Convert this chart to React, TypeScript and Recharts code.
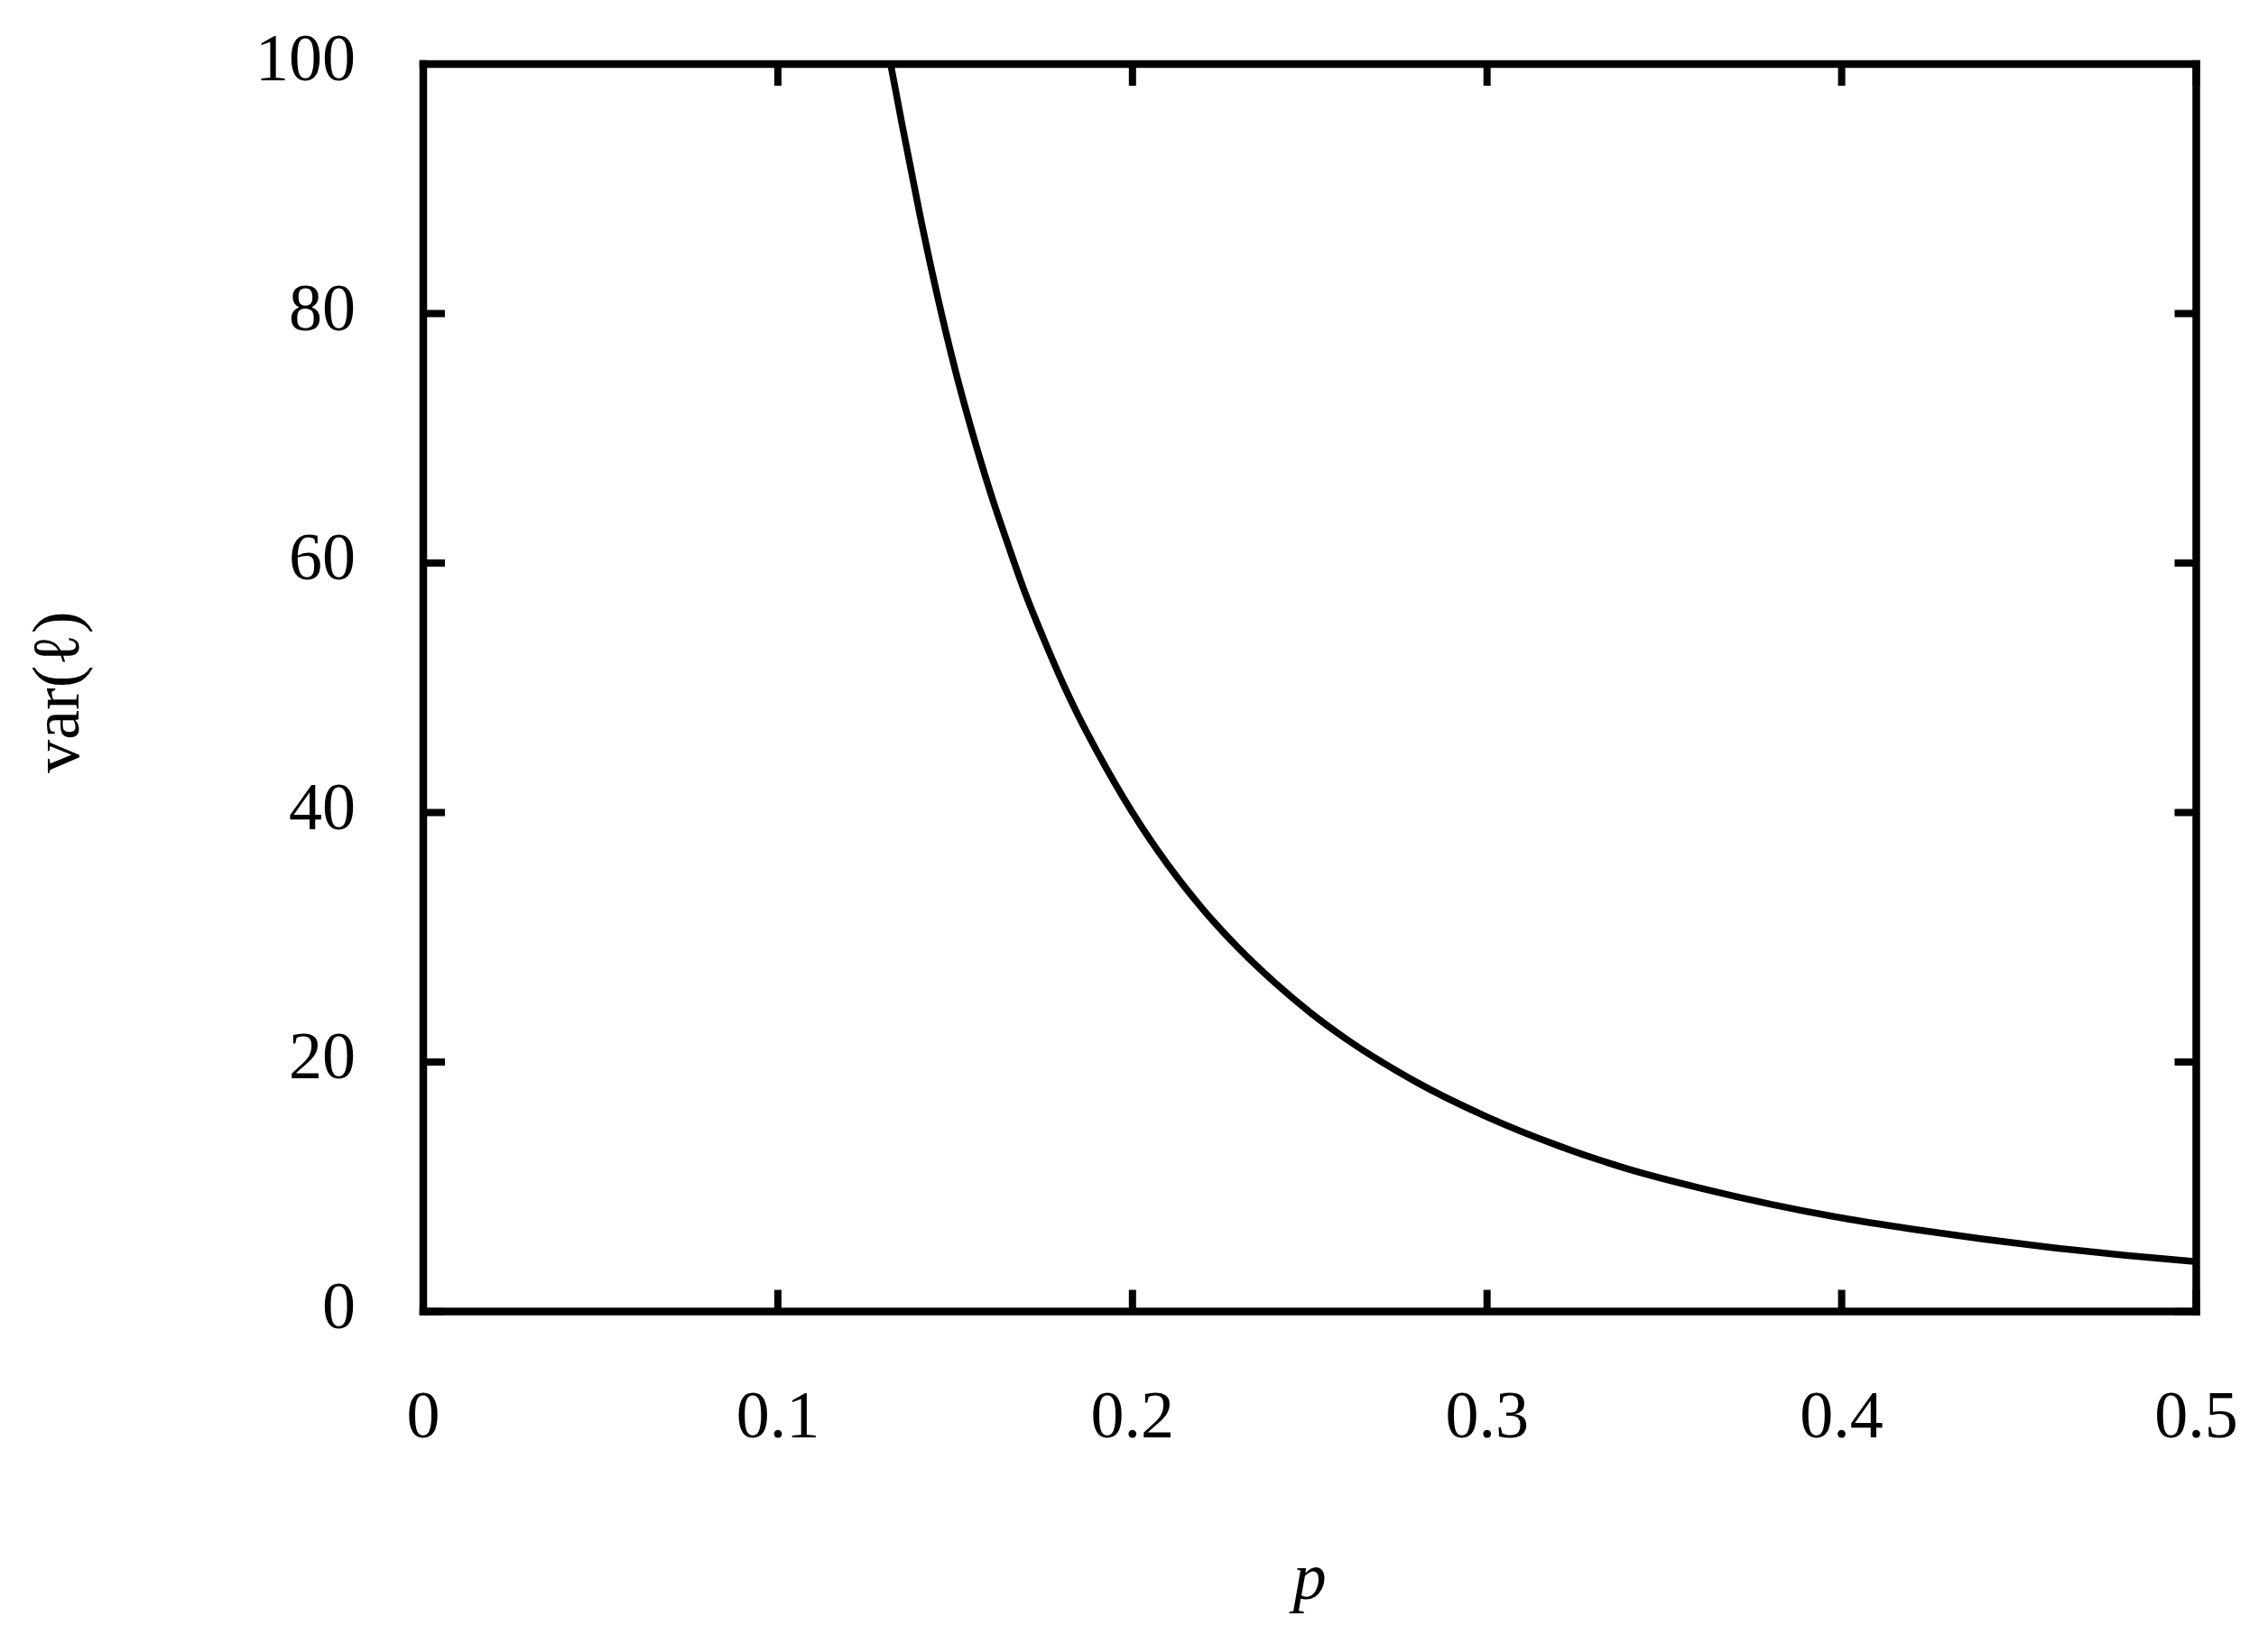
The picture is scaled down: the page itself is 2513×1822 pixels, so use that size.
import React from 'react';
import { LineChart, Line, XAxis, YAxis } from 'recharts';

// values
const pValues = [
  0.1318, 0.135, 0.14, 0.145, 0.15, 0.155, 0.16, 0.165, 0.17, 0.175, 0.18, 0.185,
  0.19, 0.2, 0.21, 0.22, 0.23, 0.24, 0.25, 0.26, 0.28, 0.3, 0.32, 0.34, 0.36,
  0.38, 0.4, 0.42, 0.44, 0.46, 0.48, 0.5,
];
const varValues = [
  100, 95.2, 88.0, 81.4, 75.5, 70.3, 65.6, 61.4, 57.4, 53.9, 50.6, 47.6,
  44.9, 40.0, 35.8, 32.2, 29.1, 26.4, 24.0, 21.9, 18.4, 15.6, 13.3, 11.4, 9.9,
  8.6, 7.5, 6.6, 5.8, 5.1, 4.5, 4.0,
];
const xTicks = [0, 0.1, 0.2, 0.3, 0.4, 0.5];
const yTicks = [0, 20, 40, 60, 80, 100];

const data = pValues.map((p, i) => ({ p, v: varValues[i] }));

const FONT = '"Liberation Serif", "Times New Roman", serif';
const FONT_SIZE = 74;
const TICK = 24;
const frame = { stroke: '#000', strokeWidth: 8.5, strokeLinecap: 'square' as const };

const BottomTick = (props: any) => {
  const { x, y, payload } = props;
  return (
    <g>
      <line x1={x} y1={y} x2={x} y2={y - TICK} stroke="#000" strokeWidth={8} />
      <text x={x} y={y + 139} textAnchor="middle" fontFamily={FONT} fontSize={FONT_SIZE} fill="#000">
        {payload.value}
      </text>
    </g>
  );
};

const TopTick = (props: any) => {
  const { x, y } = props;
  return <line x1={x} y1={y} x2={x} y2={y + TICK} stroke="#000" strokeWidth={8} />;
};

const LeftTick = (props: any) => {
  const { x, y, payload } = props;
  return (
    <g>
      <line x1={x} y1={y} x2={x + TICK} y2={y} stroke="#000" strokeWidth={8} />
      <text x={x - 75} y={y + 18} textAnchor="end" fontFamily={FONT} fontSize={FONT_SIZE} fill="#000">
        {payload.value}
      </text>
    </g>
  );
};

const RightTick = (props: any) => {
  const { x, y } = props;
  return <line x1={x} y1={y} x2={x - TICK} y2={y} stroke="#000" strokeWidth={8} />;
};

const XLabel = (props: any) => {
  const { viewBox } = props;
  return (
    <text
      x={viewBox.x + viewBox.width / 2}
      y={viewBox.y + 318}
      textAnchor="middle"
      fontFamily={FONT}
      fontStyle="italic"
      fontSize={FONT_SIZE}
      fill="#000"
    >
      p
    </text>
  );
};

const YLabel = (props: any) => {
  const { viewBox } = props;
  const cx = 87;
  const cy = viewBox.y + viewBox.height / 2 + 5;
  return (
    <text
      x={cx}
      y={cy}
      transform={`rotate(-90, ${cx}, ${cy})`}
      textAnchor="middle"
      fontFamily={FONT}
      fontSize={FONT_SIZE}
      fill="#000"
    >
      var(ℓ)
    </text>
  );
};

const App = () => {
  return (
    <div style={{ position: 'absolute', left: 0, top: 0, width: 2513, height: 1822, background: '#fff' }}>
      <LineChart width={2513} height={1822} data={data} margin={{ top: 70, right: 78.5, bottom: 0, left: 0 }}>
        <XAxis
          xAxisId="b"
          dataKey="p"
          type="number"
          orientation="bottom"
          domain={[0, 0.5]}
          ticks={xTicks}
          allowDataOverflow
          interval={0}
          height={368.5}
          axisLine={frame}
          tickLine={false}
          tickSize={0}
          tickMargin={0}
          tick={BottomTick}
          label={XLabel}
        />
        <XAxis
          xAxisId="t"
          dataKey="p"
          type="number"
          orientation="top"
          domain={[0, 0.5]}
          ticks={xTicks}
          allowDataOverflow
          interval={0}
          height={1}
          axisLine={frame}
          tickLine={false}
          tickSize={0}
          tickMargin={0}
          tick={TopTick}
        />
        <YAxis
          yAxisId="l"
          type="number"
          orientation="left"
          domain={[0, 100]}
          ticks={yTicks}
          allowDataOverflow
          interval={0}
          width={469}
          axisLine={frame}
          tickLine={false}
          tickSize={0}
          tickMargin={0}
          tick={LeftTick}
          label={YLabel}
        />
        <YAxis
          yAxisId="r"
          type="number"
          orientation="right"
          domain={[0, 100]}
          ticks={yTicks}
          allowDataOverflow
          interval={0}
          width={1}
          axisLine={frame}
          tickLine={false}
          tickSize={0}
          tickMargin={0}
          tick={RightTick}
        />
        <Line
          xAxisId="b"
          yAxisId="l"
          type="monotone"
          dataKey="v"
          stroke="#000"
          strokeWidth={7.5}
          dot={false}
          activeDot={false}
          isAnimationActive={false}
        />
      </LineChart>
    </div>
  );
};

export default App;
